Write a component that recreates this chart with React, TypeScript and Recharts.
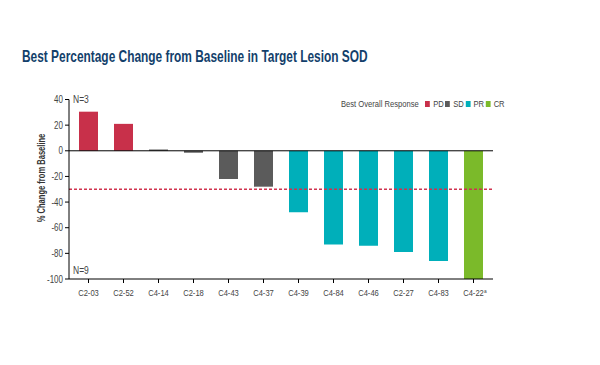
import { BarChart, Bar, Cell, XAxis, YAxis, ReferenceLine } from "recharts";

const patients = [
  "C2-03", "C2-52", "C4-14", "C2-18", "C4-43", "C4-37",
  "C4-39", "C4-84", "C4-46", "C2-27", "C4-83", "C4-22",
];
const changes = [30.5, 21, 1, -1.5, -22, -28, -48, -73, -74, -79, -86, -100];
const responses = ["PD", "PD", "SD", "SD", "SD", "SD", "PR", "PR", "PR", "PR", "PR", "CR"];
const yTicks = [-100, -80, -60, -40, -20, 0, 20, 40];
const legendItems = ["PD", "SD", "PR", "CR"];

const COLORS: Record<string, string> = {
  PD: "#c8304a",
  SD: "#5b5b5b",
  PR: "#00afba",
  CR: "#7bba2a",
};

const FONT = "'Liberation Sans', Arial, sans-serif";
const NARROW = 0.8;

const data = patients.map((p, i) => ({ patient: p, change: changes[i], response: responses[i] }));

function XTick(props: any) {
  const { x, y, payload } = props;
  const isLast = payload.value === "C4-22";
  return (
    <g transform={`translate(${x},${y + 11}) scale(${NARROW},1)`}>
      <text x={0} y={0} textAnchor="middle" fontSize={9.5} fill="#444" fontFamily={FONT}>
        {payload.value}
      </text>
      {isLast && (
        <text x={13} y={-3} fontSize={6} fill="#444" fontFamily={FONT}>
          a
        </text>
      )}
    </g>
  );
}

function YTick(props: any) {
  const { x, y, payload } = props;
  return (
    <g transform={`translate(${x},${y + 3.5}) scale(${NARROW},1)`}>
      <text x={0} y={0} textAnchor="end" fontSize={10} fill="#444" fontFamily={FONT}>
        {payload.value}
      </text>
    </g>
  );
}

export default function App() {
  return (
    <div style={{ position: "absolute", left: 0, top: 0, width: 600, height: 365, background: "#fff", fontFamily: FONT }}>
      <div
        style={{
          position: "absolute",
          left: 22,
          top: 47,
          fontSize: 17,
          fontWeight: 700,
          color: "#133f6b",
          whiteSpace: "nowrap",
          transform: "scaleX(0.7)",
          transformOrigin: "left center",
        }}
      >
        Best Percentage Change from Baseline in Target Lesion SOD
      </div>
      <div
        style={{
          position: "absolute",
          left: 41,
          top: 178,
          transform: "translate(-50%, -50%) rotate(-90deg) scaleX(0.72)",
          fontSize: 10.5,
          fontWeight: 700,
          color: "#333",
          whiteSpace: "nowrap",
        }}
      >
        % Change from Baseline
      </div>
      <div
        style={{
          position: "absolute",
          left: 341,
          top: 98,
          fontSize: 9.5,
          color: "#444",
          display: "flex",
          alignItems: "center",
          whiteSpace: "nowrap",
          transform: "scaleX(0.8)",
          transformOrigin: "left center",
        }}
      >
        <span style={{ marginRight: 8 }}>Best Overall Response</span>
        {legendItems.map((k) => (
          <span key={k} style={{ display: "flex", alignItems: "center", marginRight: 2 }}>
            <span style={{ width: 6, height: 6, background: COLORS[k], marginRight: 4, display: "inline-block" }} />
            {k}
          </span>
        ))}
      </div>
      <div
        style={{ position: "absolute", left: 73, top: 94, fontSize: 10, color: "#444", transform: "scaleX(0.85)", transformOrigin: "left center" }}
      >
        N=3
      </div>
      <div
        style={{ position: "absolute", left: 73, top: 265, fontSize: 10, color: "#444", transform: "scaleX(0.85)", transformOrigin: "left center" }}
      >
        N=9
      </div>
      <BarChart
        width={600}
        height={365}
        data={data}
        margin={{ top: 99.5, right: 107, bottom: 56, left: 39 }}
        style={{ position: "absolute", left: 0, top: 0 }}
      >
        <XAxis
          dataKey="patient"
          height={30}
          axisLine={{ stroke: "#000", strokeWidth: 1 }}
          tickLine={{ stroke: "#000" }}
          tickSize={4}
          padding={{ left: 2, right: 2 }}
          interval={0}
          tick={<XTick />}
        />
        <YAxis
          width={30}
          domain={[-100, 40]}
          ticks={yTicks}
          axisLine={{ stroke: "#000", strokeWidth: 1 }}
          tickLine={{ stroke: "#000" }}
          tickSize={4}
          tick={<YTick />}
        />
        <ReferenceLine y={0} stroke="#000" strokeWidth={1} />
        <ReferenceLine y={-30} stroke="#d0334f" strokeWidth={1.5} strokeDasharray="3 2" />
        <Bar dataKey="change" barSize={19} isAnimationActive={false}>
          {data.map((d, i) => (
            <Cell key={`cell-${i}`} fill={COLORS[d.response]} />
          ))}
        </Bar>
      </BarChart>
    </div>
  );
}
